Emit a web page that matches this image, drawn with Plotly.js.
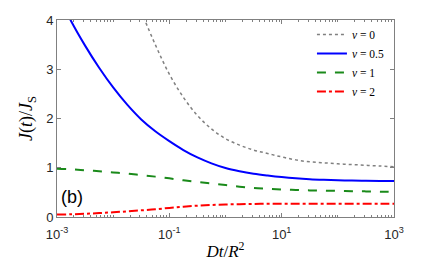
<!DOCTYPE html>
<html><head><meta charset="utf-8">
<script src="https://cdn.plot.ly/plotly-3.0.1.min.js"></script>
<style>html,body{margin:0;padding:0;background:#fff}#chart{width:436px;height:262px}</style>
</head><body><div id="chart"></div>
<script>
// Dt/R^2 sample points (log10 of time)
const logT = [-3, -2.75, -2.5, -2.25, -2, -1.75, -1.5, -1.25, -1, -0.75, -0.5, -0.25, 0, 0.25, 0.5, 0.75, 1, 1.25, 1.5, 1.75, 2, 2.25, 2.5, 2.75, 3];
const seriesSymbol = ["ν", "ν", "ν", "ν"];
const seriesLabels = ["0", "0.5", "1", "2"];
const nu0  = [null, null, null, null, null, null, 4.17, 3.50, 2.90, 2.43, 2.06, 1.79, 1.59, 1.46, 1.36, 1.29, 1.22, 1.16, 1.12, 1.10, 1.08, 1.065, 1.05, 1.035, 1.02];
const nu05 = [4.56, 3.98, 3.48, 3.03, 2.63, 2.28, 1.98, 1.74, 1.54, 1.36, 1.21, 1.09, 0.995, 0.93, 0.88, 0.842, 0.81, 0.785, 0.767, 0.755, 0.746, 0.74, 0.736, 0.733, 0.731];
const nu1  = [0.98, 0.97, 0.95, 0.93, 0.905, 0.88, 0.85, 0.82, 0.785, 0.745, 0.71, 0.68, 0.65, 0.615, 0.59, 0.575, 0.56, 0.55, 0.54, 0.535, 0.53, 0.525, 0.52, 0.515, 0.51];
const nu2  = [0.05, 0.055, 0.065, 0.08, 0.095, 0.115, 0.135, 0.155, 0.185, 0.21, 0.23, 0.245, 0.255, 0.26, 0.265, 0.27, 0.27, 0.27, 0.27, 0.27, 0.27, 0.27, 0.27, 0.27, 0.27];
const xTickVals = [1e-3, 1e-1, 1e1, 1e3];
const xTickText = ["10<sup>-3</sup>", "10<sup>-1</sup>", "10<sup>1</sup>", "10<sup>3</sup>"];
const yTickVals = [0, 1, 2, 3, 4];

const t = logT.map(v => Math.pow(10, v));
const styles = [
  {color: "#808080", width: 1.5, dash: "dot"},
  {color: "#0000ff", width: 2, dash: "solid"},
  {color: "#1a8a1a", width: 2, dash: "dash"},
  {color: "#ff0000", width: 2, dash: "dashdot"}
];
const ys = [nu0, nu05, nu1, nu2];
const data = ys.map((y, i) => ({
  x: t, y: y, type: "scatter", mode: "lines",
  name: "<i>" + seriesSymbol[i] + "</i> = " + seriesLabels[i],
  line: Object.assign({shape: "spline", smoothing: 1}, styles[i]), connectgaps: false
}));
const serif = "Liberation Serif, DejaVu Serif, serif";
const sans = "Liberation Sans, Arial, sans-serif";
const layout = {
  width: 436, height: 262,
  margin: {l: 57, r: 42, t: 20, b: 45},
  paper_bgcolor: "#fff", plot_bgcolor: "#fff",
  showlegend: true,
  legend: {x: 0.985, y: 1.0, xanchor: "right", yanchor: "top", bgcolor: "rgba(0,0,0,0)",
           font: {family: serif, size: 11.5, color: "#000"}, tracegroupgap: 0, itemwidth: 30},
  xaxis: {type: "log", range: [-3, 3], tickvals: xTickVals, ticktext: xTickText,
          ticks: "inside", ticklen: 4, tickcolor: "#808080", showline: true, linecolor: "#808080",
          mirror: "ticks", showgrid: false, zeroline: false, ticklabelstandoff: 5,
          minor: {ticks: "inside", ticklen: 2, tickcolor: "#808080", dtick: "D1", showgrid: false},
          tickfont: {family: sans, size: 13, color: "#262626"},
          title: {text: "<i>Dt</i>/<i>R</i><sup>2</sup>", font: {family: serif, size: 17, color: "#000"}, standoff: 4}},
  yaxis: {range: [0, 4], tickvals: yTickVals, ticks: "inside", ticklen: 4, tickcolor: "#808080",
          showline: true, linecolor: "#808080", mirror: "ticks", showgrid: false, zeroline: false,
          tickfont: {family: sans, size: 13, color: "#262626"},
          title: {text: "<i>J</i>(<i>t</i>)/<i>J</i><sub>S</sub>", font: {family: serif, size: 18, color: "#000"}, standoff: 8}},
  annotations: [{text: "(b)", xref: "paper", yref: "paper", x: 0.005, y: 0.04, xanchor: "left", yanchor: "bottom",
                 showarrow: false, font: {family: sans, size: 18, color: "#000"}}]
};
Plotly.newPlot("chart", data, layout, {staticPlot: true});
</script></body></html>
